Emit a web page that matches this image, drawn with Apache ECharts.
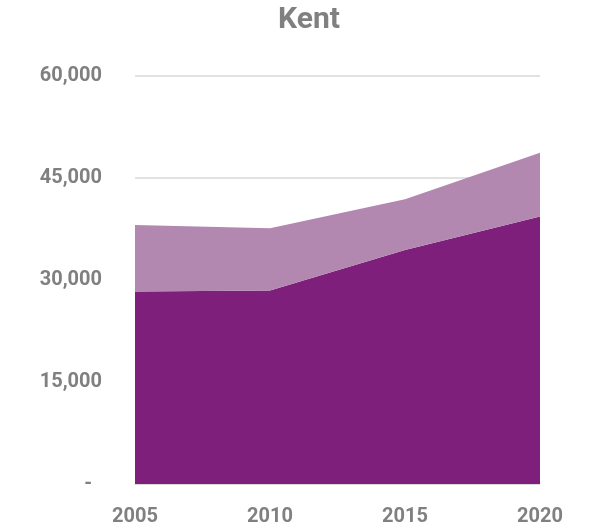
<!DOCTYPE html>
<html><head><meta charset="utf-8">
<script src="https://cdn.jsdelivr.net/npm/echarts@6/dist/echarts.min.js"></script>
<style>html,body{margin:0;padding:0;background:#fff}#c{width:590px;height:532px}</style>
</head><body><div id="c"></div>
<script>
const years = ['2005','2010','2015','2020'];
const lowerSeries = [28300, 28450, 34430, 39320];
const upperSeries = [9800, 9170, 7450, 9410];
const yTicks = [0, 15000, 30000, 45000, 60000];
const titleText = 'Kent';

const FONT = '"Roboto", sans-serif';
const chart = echarts.init(document.getElementById('c'));
chart.setOption({
  animation: false,
  title: { text: titleText, left: 304, textAlign: 'center', top: 0,
    textStyle: { fontFamily: FONT, fontSize: 30, fontWeight: 'bold', color: '#808080' } },
  grid: { left: 135, right: 50, top: 76, bottom: 48 },
  xAxis: { type: 'category', data: years, boundaryGap: false,
    axisLine: { show: true, lineStyle: { color: '#d9d9d9' } }, axisTick: { show: false },
    axisLabel: { fontFamily: FONT, fontSize: 20, fontWeight: 'bold', color: '#808080', margin: 23 } },
  yAxis: { type: 'value', min: 0, max: 60000, interval: 15000,
    axisLine: { show: false }, axisTick: { show: false },
    splitLine: { lineStyle: { color: '#d9d9d9', width: 1.5 } },
    axisLabel: { fontFamily: FONT, fontSize: 20, fontWeight: 'bold', color: '#808080', margin: 33,
      formatter: v => v === 0 ? '-\u00a0\u00a0' : v.toLocaleString('en-US') } },
  series: [
    { type: 'line', stack: 't', data: lowerSeries, symbol: 'none', lineStyle: { width: 0 },
      areaStyle: { color: '#7e1f7b', opacity: 1 } },
    { type: 'line', stack: 't', data: upperSeries, symbol: 'none', lineStyle: { width: 0 },
      areaStyle: { color: '#b287b0', opacity: 1 } }
  ]
});
</script></body></html>
